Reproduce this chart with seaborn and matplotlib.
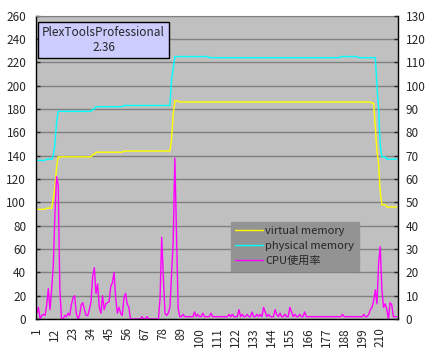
import numpy as np
import pandas as pd
import matplotlib
matplotlib.use("Agg")
import matplotlib.pyplot as plt
import seaborn as sns

# sample index 1..220 (x axis is a category axis, labelled every 11th)
categories = np.arange(1, 221)
tick_labels = [str(c) for c in range(1, 221, 11)]

# virtual memory (step levels and how many samples each lasts)
virtual_levels = [94, 95, 103, 113, 130, 139, 141, 143, 144, 154, 176, 187, 186,
                  185, 165, 144, 133, 109, 98, 96]
virtual_counts = [6, 4, 1, 1, 1, 21, 2, 17, 29, 1, 1, 3, 117,
                  2, 1, 1, 1, 1, 3, 7]

# physical memory
physical_levels = [136, 137, 140, 150, 168, 178, 180, 182, 183, 205, 215, 225, 224,
                   225, 224, 200, 180, 148, 139, 137]
physical_counts = [6, 4, 1, 1, 1, 21, 2, 17, 29, 1, 1, 21, 80,
                   11, 11, 1, 1, 1, 3, 7]

# CPU使用率 (read on the left scale)
cpu = [5, 10, 0, 3, 4, 3, 12, 26, 8, 25, 45, 89, 122, 115, 27, 0, 0, 3, 2, 5,
       3, 12, 18, 20, 5, 0, 3, 12, 14, 8, 3, 3, 8, 15, 37, 44, 22, 30, 10, 5,
       20, 8, 13, 14, 15, 28, 31, 40, 18, 5, 10, 5, 3, 18, 22, 13, 10, 0, 0, 0,
       0, 0, 0, 0, 2, 0, 0, 2, 0, 0, 0, 0, 0, 0, 0, 18, 70, 36, 5, 3,
       5, 10, 38, 67, 138, 75, 9, 2, 2, 4, 2, 2, 2, 2, 2, 2, 6, 2, 4, 2,
       2, 5, 2, 2, 2, 2, 5, 2, 2, 2, 2, 2, 2, 2, 2, 2, 2, 4, 2, 4,
       2, 2, 2, 8, 2, 4, 2, 2, 4, 2, 2, 6, 2, 2, 4, 2, 4, 2, 10, 6,
       2, 4, 2, 2, 2, 8, 4, 2, 5, 2, 2, 4, 2, 2, 10, 6, 2, 4, 2, 2,
       4, 2, 2, 6, 2, 2, 2, 2, 2, 2, 2, 2, 2, 2, 2, 2, 2, 2, 2, 2,
       2, 2, 2, 2, 2, 2, 4, 2, 2, 2, 2, 2, 2, 2, 2, 2, 2, 2, 2, 4,
       2, 2, 4, 8, 10, 16, 25, 13, 48, 62, 25, 10, 13, 8, 0, 14, 12, 2, 2, 2]

series_names = ['virtual memory', 'physical memory', 'CPU使用率']
colors = {'virtual memory': '#FFFF00', 'physical memory': '#00FFFF', 'CPU使用率': '#FF00FF'}

df = pd.DataFrame({
    'x': np.tile(categories, 3),
    'value': np.concatenate([np.repeat(virtual_levels, virtual_counts),
                             np.repeat(physical_levels, physical_counts),
                             cpu]),
    'series': np.repeat(series_names, len(categories)),
})

sns.set_style("white")
plt.rcParams['font.family'] = ['Noto Sans CJK JP', 'DejaVu Sans']

fig = plt.figure(figsize=(4.34, 3.56), dpi=100)
ax = fig.add_axes([36 / 434, 1 - 319 / 356, 361.5 / 434, 303.3 / 356])
ax.set_facecolor('#C0C0C0')

sns.lineplot(data=df, x='x', y='value', hue='series', hue_order=series_names,
             palette=colors, linewidth=1.0, ax=ax, legend=False)

ax.set_xlim(0.5, 220.5)
ax.set_ylim(0, 260)
ax.set_yticks(range(0, 261, 20))
ax.set_xticks(range(1, 221, 11))
ax.set_xticklabels(tick_labels, rotation=90, fontsize=8.5)
ax.set_xlabel('')
ax.set_ylabel('')
ax.tick_params(axis='y', direction='in', length=3, width=1, pad=7, labelsize=8.5)
ax.tick_params(axis='x', length=0, pad=6)
ax.set_axisbelow(True)
ax.grid(axis='y', color='#808080', linewidth=1)
ax.grid(axis='x', visible=False)
for side in ['left', 'bottom']:
    ax.spines[side].set_color('black')
    ax.spines[side].set_linewidth(1)
ax.spines['top'].set_color('#808080')
ax.spines['right'].set_visible(False)

ax2 = ax.twinx()
ax2.set_ylim(0, 130)
ax2.set_yticks(range(0, 131, 10))
ax2.tick_params(axis='y', direction='in', length=3, width=1, pad=6, labelsize=8.5)
ax2.spines['right'].set_color('black')
ax2.spines['right'].set_linewidth(1)
ax2.spines['top'].set_visible(False)
ax2.spines['left'].set_visible(False)
ax2.spines['bottom'].set_visible(False)

ax.text(0.187, 0.92, 'PlexToolsProfessional\n2.36', transform=ax.transAxes,
        ha='center', va='center', fontsize=8.5, linespacing=1.2,
        bbox=dict(boxstyle='square,pad=0.35', facecolor='#CCCCFF',
                  edgecolor='black', linewidth=1), zorder=5)

handles = [plt.Line2D([], [], color=colors[s], linewidth=1.0) for s in series_names]
leg = ax.legend(handles, series_names, loc='upper left', bbox_to_anchor=(0.539, 0.321),
                fontsize=8, frameon=True, fancybox=False, framealpha=1,
                facecolor='#939393', edgecolor='#939393', borderaxespad=0,
                handlelength=2.5, handletextpad=0.2, labelspacing=0.45, borderpad=0.4)
leg.set_zorder(6)

fig.savefig('out.png', dpi=100, facecolor='white')
